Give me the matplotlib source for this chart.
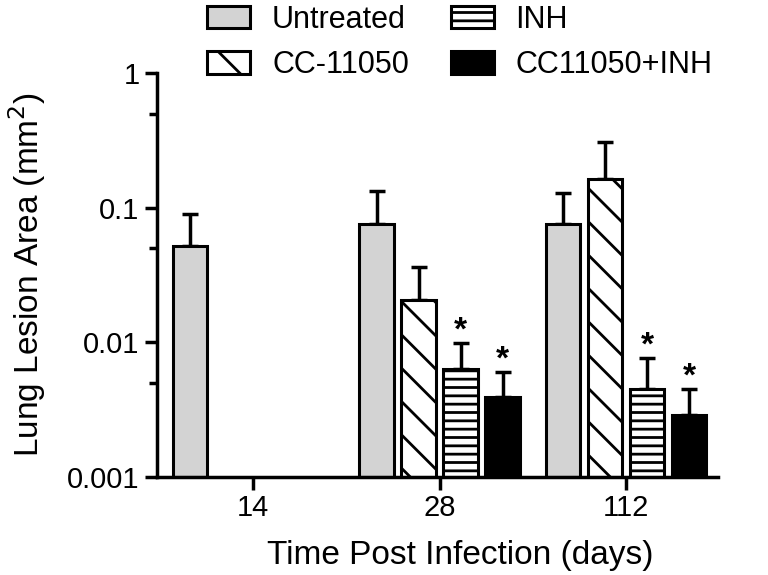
import numpy as np
import matplotlib.pyplot as plt
from matplotlib.ticker import FixedLocator, NullFormatter

plt.rcParams['font.family'] = ['Liberation Sans', 'DejaVu Sans']
plt.rcParams['hatch.linewidth'] = 2.0

days = ['14', '28', '112']
groups = ['Untreated', 'CC-11050', 'INH', 'CC11050+INH']

# mean lesion area (mm^2) and upper error bar top; nan = not measured
means = {
    'Untreated':   [0.052, 0.0755, 0.0755],
    'CC-11050':    [np.nan, 0.0206, 0.162],
    'INH':         [np.nan, 0.00637, 0.00448],
    'CC11050+INH': [np.nan, 0.0039, 0.00287],
}
err_top = {
    'Untreated':   [0.090, 0.134, 0.128],
    'CC-11050':    [np.nan, 0.0364, 0.307],
    'INH':         [np.nan, 0.00993, 0.00769],
    'CC11050+INH': [np.nan, 0.00605, 0.00452],
}
signif = {
    'INH':         [False, True, True],
    'CC11050+INH': [False, True, True],
}

styles = {
    'Untreated':   dict(color='#d3d3d3', hatch=None),
    'CC-11050':    dict(color='white', hatch='\\'),
    'INH':         dict(color='white', hatch='--'),
    'CC11050+INH': dict(color='black', hatch=None),
}

YMIN = 0.001

fig = plt.figure(figsize=(7.68, 5.75), dpi=100)
ax = fig.add_axes([0.2044, 0.1704, 0.7306, 0.7026])

x = np.arange(len(days))
step = 0.225
width = 0.185
offsets = (np.arange(len(groups)) - 1.5) * step

handles = []
for g, off in zip(groups, offsets):
    m = np.array(means[g])
    top = np.array(err_top[g])
    ok = ~np.isnan(m)
    st = styles[g]
    bars = ax.bar(x[ok] + off, m[ok] - YMIN, width=width, bottom=YMIN,
                  color=st['color'], hatch=st['hatch'], edgecolor='black',
                  linewidth=2.2, zorder=2, label=g)
    handles.append(bars)
    ax.errorbar(x[ok] + off, m[ok], yerr=[np.zeros(ok.sum()), top[ok] - m[ok]],
                fmt='none', ecolor='black', elinewidth=2.5, capsize=6,
                capthick=2.5, zorder=1)
    if g in signif:
        for xi, s, t in zip(x + off, signif[g], top):
            if s:
                ax.annotate('*', (xi, t), xytext=(0, -3),
                            textcoords='offset points', ha='center',
                            va='bottom', fontsize=24, fontweight='bold')

ax.set_yscale('log')
ax.set_ylim(YMIN, 1)
ax.set_xlim(-0.515, 2.493)
ax.yaxis.set_major_locator(FixedLocator([0.001, 0.01, 0.1, 1]))
ax.set_yticklabels(['0.001', '0.01', '0.1', '1'])
ax.yaxis.set_minor_locator(FixedLocator([0.005, 0.05, 0.5]))
ax.yaxis.set_minor_formatter(NullFormatter())
ax.set_xticks(x)
ax.set_xticklabels(days)

for s in ['top', 'right']:
    ax.spines[s].set_visible(False)
for s in ['left', 'bottom']:
    ax.spines[s].set_linewidth(2.5)
ax.tick_params(axis='both', which='major', width=2.5, length=9, labelsize=21)
ax.tick_params(axis='y', which='minor', width=2.5, length=6)

ax.set_xlabel('Time Post Infection (days)', fontsize=24, labelpad=13)
ax.xaxis.label.set_x(0.54)
ax.set_ylabel('Lung Lesion Area (mm$^2$)', fontsize=24, labelpad=14)

fig.legend(handles=handles, labels=groups, ncol=2, loc='upper left',
           bbox_to_anchor=(0.25, 1.018), frameon=False, fontsize=22,
           borderpad=0, handlelength=1.4, handleheight=0.75,
           columnspacing=1.37, labelspacing=0.5, handletextpad=0.72)

fig.savefig('out.png', dpi=100)
